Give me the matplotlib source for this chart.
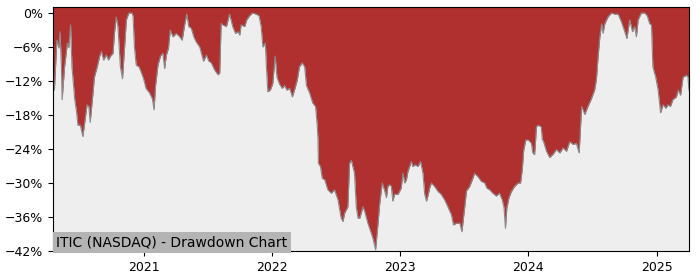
import matplotlib
matplotlib.use("Agg")
import matplotlib.pyplot as plt
from matplotlib.ticker import FuncFormatter
import pandas as pd

dates = [
    "2020-04-17", "2020-04-21", "2020-04-28", "2020-05-04", "2020-05-07", "2020-05-11", "2020-05-13",
    "2020-05-20", "2020-05-28", "2020-06-01", "2020-06-06", "2020-06-10", "2020-06-18", "2020-06-23",
    "2020-06-27", "2020-07-04", "2020-07-11", "2020-07-16", "2020-07-23", "2020-07-28", "2020-08-01",
    "2020-08-09", "2020-08-13", "2020-08-21", "2020-08-28", "2020-09-02", "2020-09-08", "2020-09-16",
    "2020-09-22", "2020-09-28", "2020-10-05", "2020-10-09", "2020-10-14", "2020-10-19", "2020-10-26",
    "2020-11-01", "2020-11-07", "2020-11-12", "2020-11-19", "2020-11-28", "2020-12-01", "2020-12-05",
    "2020-12-10", "2020-12-18", "2020-12-24", "2020-12-31", "2021-01-07", "2021-01-17", "2021-01-25",
    "2021-01-30", "2021-02-03", "2021-02-10", "2021-02-17", "2021-02-24", "2021-03-01", "2021-03-06",
    "2021-03-12", "2021-03-17", "2021-03-25", "2021-04-03", "2021-04-13", "2021-04-20", "2021-04-27",
    "2021-05-03", "2021-05-09", "2021-05-16", "2021-05-23", "2021-05-30", "2021-06-09", "2021-06-15",
    "2021-06-20", "2021-06-28", "2021-07-05", "2021-07-12", "2021-07-21", "2021-07-31", "2021-08-05",
    "2021-08-09", "2021-08-14", "2021-08-24", "2021-09-02", "2021-09-11", "2021-09-19", "2021-09-26",
    "2021-10-01", "2021-10-05", "2021-10-15", "2021-10-21", "2021-10-29", "2021-11-06", "2021-11-17",
    "2021-11-25", "2021-12-01", "2021-12-06", "2021-12-13", "2021-12-16", "2021-12-20", "2021-12-27",
    "2022-01-03", "2022-01-10", "2022-01-15", "2022-01-22", "2022-01-30", "2022-02-06", "2022-02-12",
    "2022-02-20", "2022-02-28", "2022-03-06", "2022-03-14", "2022-03-20", "2022-03-28", "2022-04-04",
    "2022-04-09", "2022-04-18", "2022-04-27", "2022-05-05", "2022-05-10", "2022-05-12", "2022-05-13",
    "2022-05-19", "2022-05-24", "2022-05-31", "2022-06-09", "2022-06-19", "2022-06-28", "2022-07-08",
    "2022-07-17", "2022-07-22", "2022-07-27", "2022-08-05", "2022-08-10", "2022-08-15", "2022-08-24",
    "2022-08-29", "2022-09-03", "2022-09-08", "2022-09-17", "2022-09-22", "2022-10-01", "2022-10-11",
    "2022-10-17", "2022-10-23", "2022-10-30", "2022-11-04", "2022-11-11", "2022-11-18", "2022-11-23",
    "2022-11-27", "2022-12-02", "2022-12-07", "2022-12-11", "2022-12-16", "2022-12-26", "2023-01-04",
    "2023-01-09", "2023-01-14", "2023-01-19", "2023-01-23", "2023-02-02", "2023-02-06", "2023-02-13",
    "2023-02-21", "2023-02-28", "2023-03-07", "2023-03-12", "2023-03-17", "2023-03-21", "2023-03-26",
    "2023-03-31", "2023-04-09", "2023-04-19", "2023-04-28", "2023-05-08", "2023-05-17", "2023-05-27",
    "2023-06-02", "2023-06-10", "2023-06-20", "2023-06-26", "2023-07-04", "2023-07-09", "2023-07-18",
    "2023-07-27", "2023-08-01", "2023-08-11", "2023-08-20", "2023-08-30", "2023-09-05", "2023-09-13",
    "2023-09-22", "2023-10-02", "2023-10-11", "2023-10-19", "2023-10-24", "2023-10-28", "2023-11-01",
    "2023-11-07", "2023-11-14", "2023-11-23", "2023-12-03", "2023-12-10", "2023-12-15", "2023-12-19",
    "2023-12-25", "2024-01-01", "2024-01-10", "2024-01-14", "2024-01-19", "2024-01-22", "2024-01-24",
    "2024-01-29", "2024-02-07", "2024-02-10", "2024-02-12", "2024-02-22", "2024-03-02", "2024-03-12",
    "2024-03-21", "2024-03-31", "2024-04-09", "2024-04-19", "2024-04-28", "2024-05-08", "2024-05-17",
    "2024-05-25", "2024-05-27", "2024-06-01", "2024-06-10", "2024-06-19", "2024-06-29", "2024-07-08",
    "2024-07-13", "2024-07-18", "2024-07-23", "2024-07-28", "2024-08-01", "2024-08-06", "2024-08-15",
    "2024-08-25", "2024-09-03", "2024-09-13", "2024-09-22", "2024-10-02", "2024-10-08", "2024-10-16",
    "2024-10-24", "2024-10-30", "2024-11-04", "2024-11-09", "2024-11-18", "2024-11-28", "2024-12-05",
    "2024-12-12", "2024-12-17", "2024-12-21", "2024-12-29", "2025-01-05", "2025-01-12", "2025-01-19",
    "2025-01-27", "2025-02-02", "2025-02-09", "2025-02-16", "2025-02-26", "2025-03-03", "2025-03-10",
    "2025-03-17", "2025-03-27", "2025-03-31", "2025-04-03",
]

drawdown_pct = [
    -12.0, -13.6, -4.8, -6.2, -3.3, -9.5, -15.3,
    -9.5, -5.3, -6.1, -2.1, -9.5, -15.3, -17.4,
    -19.8, -19.8, -21.8, -19.5, -16.2, -16.5, -19.3,
    -14.1, -11.3, -9.5, -7.6, -6.8, -8.3, -7.4,
    -8.3, -7.6, -7.1, -3.6, -0.7, -2.4, -9.5,
    -11.6, -6.0, -1.2, 0.0, 0.0, -0.5, -6.0,
    -9.2, -9.5, -10.4, -11.6, -13.3, -14.1, -15.1,
    -17.1, -12.9, -9.2, -7.6, -7.1, -9.8, -7.4,
    -6.2, -3.0, -4.2, -3.6, -4.2, -4.8, -2.1,
    -0.2, -2.4, -2.7, -4.2, -5.1, -6.0, -7.4,
    -8.5, -7.4, -8.5, -8.8, -10.0, -10.9, -10.6,
    -1.8, -2.1, -2.4, -0.2, -2.4, -3.6, -3.3,
    -3.9, -2.1, -2.4, -1.2, -0.5, 0.0, -0.2,
    -0.5, -2.4, -6.0, -5.3, -9.5, -13.9, -13.6,
    -12.5, -7.6, -11.3, -12.5, -13.3, -12.8, -13.6,
    -13.3, -14.8, -13.6, -11.8, -9.5, -8.8, -9.5,
    -12.8, -14.1, -15.9, -16.5, -20.0, -22.4, -26.5,
    -27.1, -29.2, -29.4, -31.2, -31.8, -31.2, -33.0,
    -36.2, -36.8, -35.3, -34.2, -26.5, -26.0, -28.3,
    -34.2, -36.2, -36.2, -34.2, -35.0, -37.1, -38.9,
    -40.1, -41.8, -37.1, -33.5, -30.0, -31.4, -32.6,
    -30.6, -30.3, -30.6, -33.2, -32.0, -32.0, -30.9,
    -28.3, -30.0, -29.4, -28.0, -26.2, -27.1, -26.8,
    -27.1, -26.2, -28.3, -32.0, -33.2, -32.3, -30.9,
    -30.0, -30.6, -31.5, -32.0, -33.0, -34.2, -35.6,
    -37.4, -37.1, -37.1, -38.6, -34.2, -31.4, -30.6,
    -29.2, -28.3, -28.9, -29.7, -30.0, -30.9, -31.2,
    -31.8, -32.3, -31.8, -33.0, -34.4, -38.0, -34.4,
    -32.6, -31.5, -30.6, -30.0, -30.0, -27.6, -24.2,
    -22.4, -22.4, -23.0, -24.7, -25.0, -22.4, -20.1,
    -19.8, -20.1, -22.4, -22.4, -24.4, -25.5, -24.9,
    -24.1, -24.7, -23.8, -24.4, -22.7, -23.2, -23.0,
    -24.7, -22.4, -16.5, -17.9, -16.5, -15.1, -13.6,
    -11.8, -7.7, -4.2, -1.9, -3.6, -1.9, -0.7,
    0.0, -0.2, -0.2, -1.5, -3.3, -4.5, -1.2,
    -3.3, -2.4, -4.2, -1.2, 0.0, 0.0, -0.5,
    -1.9, -2.1, -9.5, -11.3, -13.6, -17.6, -16.2,
    -16.8, -16.2, -16.5, -15.3, -14.8, -13.6, -14.5,
    -11.3, -11.0, -11.3, -13.6,
]

y_ticks = [0, -6, -12, -18, -24, -30, -36, -42]
x_tick_years = ["2021", "2022", "2023", "2024", "2025"]
title_text = "ITIC (NASDAQ) - Drawdown Chart"

x = pd.to_datetime(dates)
y_top = 1.06

fig = plt.figure(figsize=(7.0, 2.8), dpi=100)
ax = fig.add_axes([0.0757, 0.1036, 0.9086, 0.8714])
ax.set_facecolor("#eeeeee")

ax.fill_between(x, drawdown_pct, y_top, color="#b03030", linewidth=0)
ax.plot(x, drawdown_pct, color="#8a8a8a", linewidth=0.8)

ax.set_xlim(x[0], x[-1])
ax.set_ylim(-42, y_top)
ax.set_yticks(y_ticks)
ax.yaxis.set_major_formatter(FuncFormatter(lambda v, p: f"{v:.0f}%".replace("-", "\u2212")))
ax.set_xticks(pd.to_datetime([f"{yr}-01-01" for yr in x_tick_years]))
ax.set_xticklabels(x_tick_years)
ax.tick_params(labelsize=9)

ax.text(0.005, 0.008, title_text, transform=ax.transAxes, fontsize=10,
        ha="left", va="bottom",
        bbox=dict(facecolor="#b4b4b4", edgecolor="none", pad=2.5))

fig.savefig("out.png", dpi=100)
